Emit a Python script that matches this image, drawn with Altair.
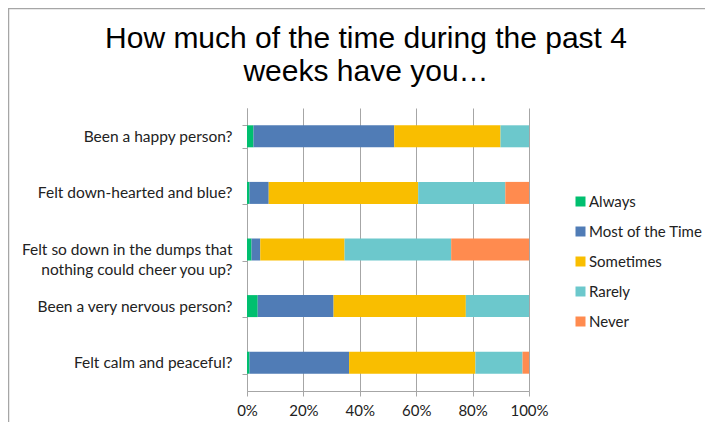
import altair as alt
import pandas as pd

questions = [
    "Been a happy person?",
    "Felt down-hearted and blue?",
    "Felt so down in the dumps that nothing could cheer you up?",
    "Been a very nervous person?",
    "Felt calm and peaceful?",
]
responses = ["Always", "Most of the Time", "Sometimes", "Rarely", "Never"]
colors = ["#00BF6F", "#507CB6", "#F9BE00", "#6CC8CC", "#FF8B4F"]

always = [2.3, 0.9, 1.6, 3.8, 0.9]
most = [49.9, 6.8, 3.1, 26.9, 35.3]
sometimes = [37.7, 53.0, 29.9, 46.9, 44.8]
rarely = [10.1, 30.9, 37.8, 22.4, 16.7]
never = [0.0, 8.4, 27.6, 0.0, 2.3]

series = [always, most, sometimes, rarely, never]
rows = []
for ri, (resp, vals) in enumerate(zip(responses, series)):
    for q, v in zip(questions, vals):
        rows.append({"question": q, "response": resp, "order": ri, "value": v})
df = pd.DataFrame(rows)

label_expr = (
    "datum.label == 'Felt so down in the dumps that nothing could cheer you up?' ? "
    "['Felt so down in the dumps that', 'nothing could cheer you up?'] : datum.label"
)

FONT = "Lato"
FS = 15.5

bars = alt.Chart(df).mark_bar(size=22).encode(
    x=alt.X(
        "value:Q",
        stack="normalize",
        scale=alt.Scale(domain=[0, 1], nice=False),
        axis=alt.Axis(
            format=".0%", values=[0, 0.2, 0.4, 0.6, 0.8, 1.0], title=None,
            grid=True, gridColor="#A6A6A6", gridWidth=1, labelFlush=False,
            domainColor="#A6A6A6", tickColor="#A6A6A6", tickSize=5,
            labelFont=FONT, labelFontSize=15, labelColor="#222222", labelPadding=7,
        ),
    ),
    y=alt.Y(
        "question:N",
        sort=questions,
        scale=alt.Scale(paddingInner=0.6, paddingOuter=0.3),
        axis=alt.Axis(
            title=None, labelExpr=label_expr, labelLineHeight=20,
            labelFont=FONT, labelFontSize=FS, labelColor="#222222",
            labelPadding=10, tickSize=5, tickBand="extent",
            domainColor="#A6A6A6", tickColor="#A6A6A6", labelLimit=300,
        ),
    ),
    color=alt.Color(
        "response:N",
        scale=alt.Scale(domain=responses, range=colors),
        legend=alt.Legend(
            title=None, orient="none", legendX=326, legendY=86,
            symbolType="square", symbolSize=100, symbolStrokeWidth=0,
            labelFont=FONT, labelFontSize=15, labelColor="#222222",
            rowPadding=14, labelOffset=1, padding=0,
        ),
    ),
    order=alt.Order("order:Q"),
)

border = alt.Chart(alt.Data(values=[{"a": 1}])).mark_rule(color="#A6A6A6", strokeWidth=1.5).encode(
    x=alt.value(-238.5), y=alt.value(-100), y2=alt.value(330)
)
border_top = alt.Chart(alt.Data(values=[{"a": 1}])).mark_rule(color="#A6A6A6", strokeWidth=1.5).encode(
    x=alt.value(-239), x2=alt.value(460), y=alt.value(-99.5)
)

chart = alt.layer(bars, border, border_top).properties(
    width=282,
    height=283,
    title=alt.TitleParams(
        ["How much of the time during the past 4", "weeks have you…"],
        font="Liberation Sans", fontSize=30, fontWeight="normal", color="#000000",
        anchor="middle", frame="group", dx=-22, dy=80, offset=0, lineHeight=33,
        baseline="top",
    ),
    autosize=alt.AutoSizeParams(type="none"),
    padding={"left": 239, "top": 100, "right": 176, "bottom": 31},
).configure_view(stroke=None)

chart.save("out.html", embed_options={"renderer": "svg", "actions": False})
